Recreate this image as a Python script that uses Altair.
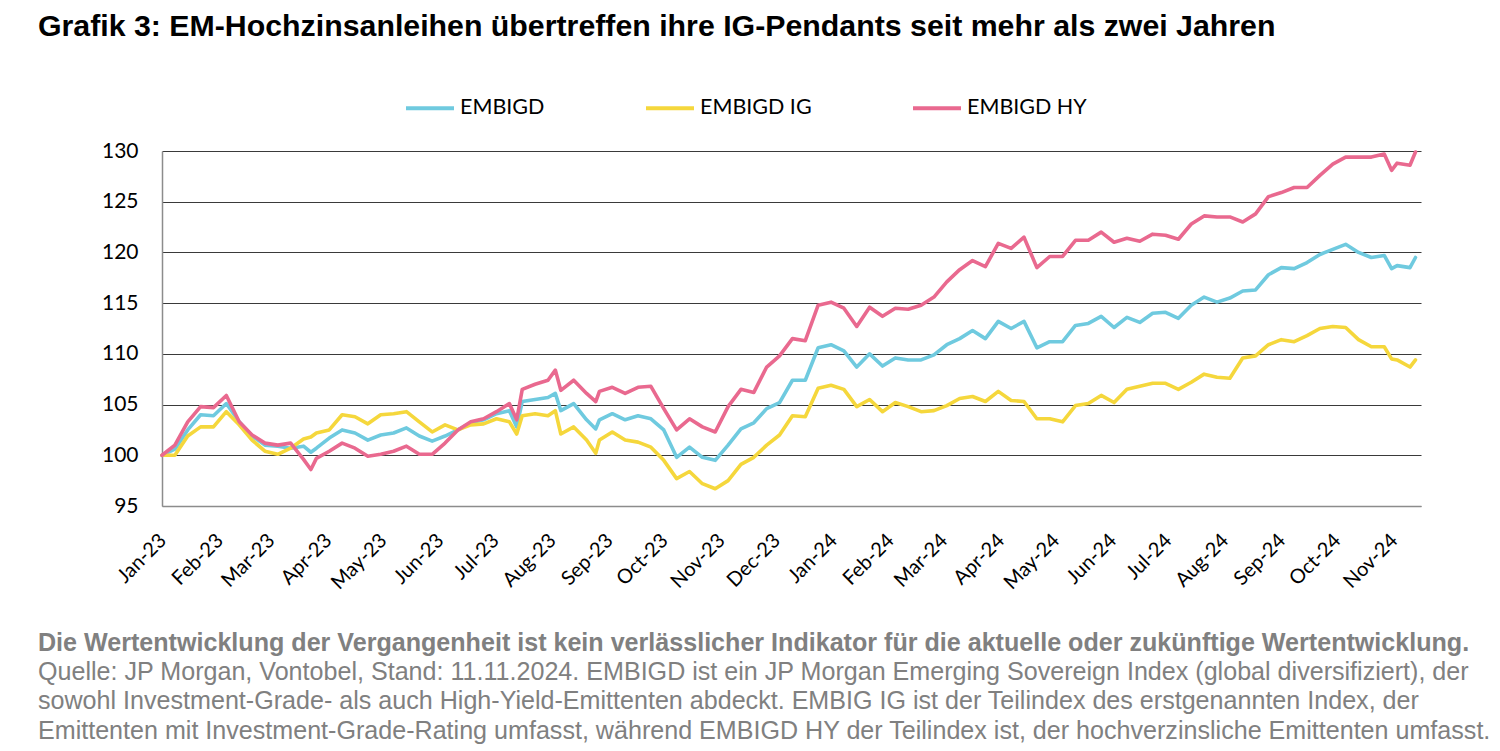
import altair as alt
import pandas as pd

# ---------------- data ----------------
dates = [
    "2022-12-30",
    "2023-01-06", "2023-01-13", "2023-01-20", "2023-01-27",
    "2023-02-03", "2023-02-10", "2023-02-17", "2023-02-24",
    "2023-03-03", "2023-03-10", "2023-03-17", "2023-03-21", "2023-03-24", "2023-03-31",
    "2023-04-07", "2023-04-14", "2023-04-21", "2023-04-28",
    "2023-05-05", "2023-05-12", "2023-05-19", "2023-05-26",
    "2023-06-02", "2023-06-09", "2023-06-16", "2023-06-23", "2023-06-30",
    "2023-07-07", "2023-07-11", "2023-07-14", "2023-07-21", "2023-07-28",
    "2023-08-01", "2023-08-04", "2023-08-11", "2023-08-18", "2023-08-23", "2023-08-25",
    "2023-09-01", "2023-09-08", "2023-09-15", "2023-09-22", "2023-09-29",
    "2023-10-06", "2023-10-13", "2023-10-20", "2023-10-27",
    "2023-11-03", "2023-11-10", "2023-11-17", "2023-11-24",
    "2023-12-01", "2023-12-08", "2023-12-15", "2023-12-22", "2023-12-29",
    "2024-01-05", "2024-01-12", "2024-01-19", "2024-01-26",
    "2024-02-02", "2024-02-09", "2024-02-16", "2024-02-23",
    "2024-03-01", "2024-03-08", "2024-03-15", "2024-03-22", "2024-03-29",
    "2024-04-05", "2024-04-12", "2024-04-19", "2024-04-26",
    "2024-05-03", "2024-05-10", "2024-05-17", "2024-05-24", "2024-05-31",
    "2024-06-07", "2024-06-14", "2024-06-21", "2024-06-28",
    "2024-07-05", "2024-07-12", "2024-07-19", "2024-07-26",
    "2024-08-02", "2024-08-09", "2024-08-16", "2024-08-23", "2024-08-30",
    "2024-09-06", "2024-09-13", "2024-09-20", "2024-09-27",
    "2024-10-04", "2024-10-11", "2024-10-18", "2024-10-25", "2024-10-29",
    "2024-11-01", "2024-11-08", "2024-11-11",
]

embigd = [
    100.0,
    100.6, 102.5, 104.0, 103.9,
    105.1, 103.3, 101.9, 101.0,
    100.9, 100.7, 100.9, 100.3, 100.7, 101.7,
    102.5, 102.2, 101.5, 102.0,
    102.2, 102.7, 101.9, 101.4,
    101.9, 102.5, 103.2, 103.5, 104.1,
    104.4, 102.8, 105.3, 105.5, 105.7,
    106.1, 104.4, 105.1, 103.5, 102.6, 103.5,
    104.1, 103.5, 103.9, 103.6, 102.5,
    99.8, 100.8, 99.8, 99.5,
    101.0, 102.6, 103.2, 104.6,
    105.2, 107.4, 107.4, 110.6, 110.9,
    110.3, 108.7, 110.0, 108.8,
    109.6, 109.4, 109.4, 109.9,
    110.9, 111.5, 112.3, 111.5, 113.2,
    112.5, 113.2, 110.6, 111.2,
    111.2, 112.8, 113.0, 113.7, 112.6,
    113.6, 113.1, 114.0, 114.1,
    113.5, 114.8, 115.6, 115.1,
    115.5, 116.2, 116.3, 117.8, 118.5,
    118.4, 119.0, 119.8, 120.3,
    120.8, 120.0, 119.5, 119.7, 118.4,
    118.7, 118.5, 119.5,
]

embigd_ig = [
    100.0,
    100.0, 101.9, 102.8, 102.8,
    104.3, 103.0, 101.5, 100.4,
    100.1, 100.7, 101.6, 101.8, 102.2, 102.5,
    104.0, 103.8, 103.1, 104.0,
    104.1, 104.3, 103.3, 102.3,
    103.0, 102.5, 103.0, 103.1, 103.6,
    103.3, 102.1, 103.9, 104.1, 103.9,
    104.4, 102.1, 102.8, 101.5, 100.2, 101.5,
    102.3, 101.5, 101.3, 100.8, 99.5,
    97.7, 98.4, 97.2, 96.7,
    97.5, 99.1, 99.8, 101.0,
    102.0, 103.9, 103.8, 106.6, 106.9,
    106.5, 104.8, 105.5, 104.3,
    105.2, 104.8, 104.3, 104.4,
    104.9, 105.6, 105.8, 105.3, 106.3,
    105.4, 105.3, 103.6, 103.6,
    103.3, 104.9, 105.1, 105.9, 105.2,
    106.5, 106.8, 107.1, 107.1,
    106.5, 107.2, 108.0, 107.7,
    107.6, 109.6, 109.8, 110.9, 111.4,
    111.2, 111.8, 112.5, 112.7,
    112.6, 111.4, 110.7, 110.7, 109.5,
    109.4, 108.7, 109.4,
]

embigd_hy = [
    100.0,
    101.0, 103.3, 104.8, 104.7,
    105.9, 103.3, 102.0, 101.2,
    101.0, 101.2, 99.6, 98.6, 99.7, 100.4,
    101.2, 100.7, 99.9, 100.1,
    100.4, 100.9, 100.1, 100.1,
    101.2, 102.5, 103.3, 103.6, 104.3,
    105.1, 103.5, 106.5, 107.0, 107.4,
    108.4, 106.4, 107.4, 106.1, 105.3, 106.3,
    106.7, 106.1, 106.7, 106.8, 104.6,
    102.5, 103.6, 102.8, 102.3,
    104.8, 106.5, 106.2, 108.7,
    109.8, 111.5, 111.3, 114.8, 115.1,
    114.5, 112.7, 114.6, 113.7,
    114.5, 114.4, 114.8, 115.6,
    117.1, 118.3, 119.2, 118.6, 120.9,
    120.4, 121.5, 118.5, 119.6,
    119.6, 121.2, 121.2, 122.0, 121.0,
    121.4, 121.1, 121.8, 121.7,
    121.3, 122.8, 123.6, 123.5,
    123.5, 123.0, 123.8, 125.5, 125.9,
    126.4, 126.4, 127.6, 128.7,
    129.4, 129.4, 129.4, 129.7, 128.1,
    128.8, 128.6, 129.9,
]

series_names = ["EMBIGD", "EMBIGD IG", "EMBIGD HY"]
series_colors = ["#6FCADF", "#F5D73C", "#E9698F"]

y_ticks = [95, 100, 105, 110, 115, 120, 125, 130]
month_ticks = [
    (2023, 1), (2023, 2), (2023, 3), (2023, 4), (2023, 5), (2023, 6),
    (2023, 7), (2023, 8), (2023, 9), (2023, 10), (2023, 11), (2023, 12),
    (2024, 1), (2024, 2), (2024, 3), (2024, 4), (2024, 5), (2024, 6),
    (2024, 7), (2024, 8), (2024, 9), (2024, 10), (2024, 11),
]

title_text = "Grafik 3: EM-Hochzinsanleihen übertreffen ihre IG-Pendants seit mehr als zwei Jahren"
foot_bold = ("Die Wertentwicklung der Vergangenheit ist kein verlässlicher Indikator "
             "für die aktuelle oder zukünftige Wertentwicklung.")
foot_lines = [
    "Quelle: JP Morgan, Vontobel, Stand: 11.11.2024. EMBIGD ist ein JP Morgan Emerging Sovereign Index (global diversifiziert), der",
    "sowohl Investment-Grade- als auch High-Yield-Emittenten abdeckt. EMBIG IG ist der Teilindex des erstgenannten Index, der",
    "Emittenten mit Investment-Grade-Rating umfasst, während EMBIGD HY der Teilindex ist, der hochverzinsliche Emittenten umfasst.",
]

# ---------------- build table ----------------
rows = []
for name, vals in zip(series_names, [embigd, embigd_ig, embigd_hy]):
    for d, v in zip(dates, vals):
        rows.append({"date": d, "value": v, "series": name})
df = pd.DataFrame(rows)

W, H = 1259, 355
AXIS_FONT = "Lato"
TEXT_FONT = "Liberation Sans"

x_enc = alt.X(
    "date:T",
    scale=alt.Scale(domain=[alt.DateTime(year=2022, month=12, date=30),
                            alt.DateTime(year=2024, month=11, date=14)]),
    axis=alt.Axis(
        values=[alt.DateTime(year=y, month=m, date=1) for y, m in month_ticks],
        format="%b-%y",
        labelAngle=-45,
        labelAlign="right",
        labelBaseline="top",
        labelPadding=24,
        labelOffset=-10,
        labelFont=AXIS_FONT,
        labelFontSize=20,
        labelColor="#000000",
        labelOverlap=False,
        labelFlush=False,
        ticks=False,
        grid=False,
        domainColor="#8c8c8c",
        domainWidth=1.5,
        title=None,
    ),
)

y_enc = alt.Y(
    "value:Q",
    scale=alt.Scale(domain=[95, 130], nice=False, zero=False),
    axis=alt.Axis(
        values=y_ticks,
        labelFont=AXIS_FONT,
        labelFontSize=21,
        labelColor="#000000",
        labelPadding=24,
        ticks=False,
        grid=True,
        gridColor={"condition": {"test": "datum.value === 95", "value": "#8c8c8c"},
                   "value": "#3a3a3a"},
        gridWidth=1.2,
        domainColor="#8c8c8c",
        domainWidth=1.5,
        title=None,
    ),
)

color_enc = alt.Color(
    "series:N",
    scale=alt.Scale(domain=series_names, range=series_colors),
    legend=alt.Legend(
        orient="none",
        legendX=242,
        legendY=-69,
        direction="horizontal",
        title=None,
        symbolType="stroke",
        symbolSize=2304,
        symbolStrokeWidth=4,
        labelFont=AXIS_FONT,
        labelFontSize=21.5,
        labelColor="#000000",
        labelOffset=4,
        columnPadding=93,
        padding=0,
    ),
)

lines = []
for name in series_names:
    lines.append(
        alt.Chart(df)
        .transform_filter(alt.datum.series == name)
        .mark_line(strokeWidth=3.6, strokeJoin="round", strokeCap="round")
        .encode(x=x_enc, y=y_enc, color=color_enc, order="date:T")
    )

title_layer = (
    alt.Chart(pd.DataFrame({"t": [title_text]}))
    .mark_text(align="left", baseline="alphabetic", font=TEXT_FONT,
               fontSize=30.3, fontWeight="bold", color="#000000")
    .encode(x=alt.value(-124), y=alt.value(-115), text="t:N")
)

foot_bold_layer = (
    alt.Chart(pd.DataFrame({"t": [foot_bold]}))
    .mark_text(align="left", baseline="alphabetic", font=TEXT_FONT,
               fontSize=25.1, fontWeight="bold", color="#808080")
    .encode(x=alt.value(-124), y=alt.value(500), text="t:N")
)

foot_layer = (
    alt.Chart(pd.DataFrame({"t": ["\n".join(foot_lines)]}))
    .mark_text(align="left", baseline="alphabetic", font=TEXT_FONT,
               fontSize=25.1, color="#808080", lineBreak="\n", lineHeight=29.3)
    .encode(x=alt.value(-124), y=alt.value(529), text="t:N")
)

chart = (
    alt.layer(*lines, title_layer, foot_bold_layer, foot_layer)
    .properties(
        width=W,
        height=H,
        autosize=alt.AutoSizeParams(type="none"),
        padding={"left": 154, "top": 143, "right": 71, "bottom": 245},
        background="#ffffff",
    )
    .configure_view(stroke=None)
)

chart.save("out.html", embed_options={"renderer": "svg", "actions": False})
